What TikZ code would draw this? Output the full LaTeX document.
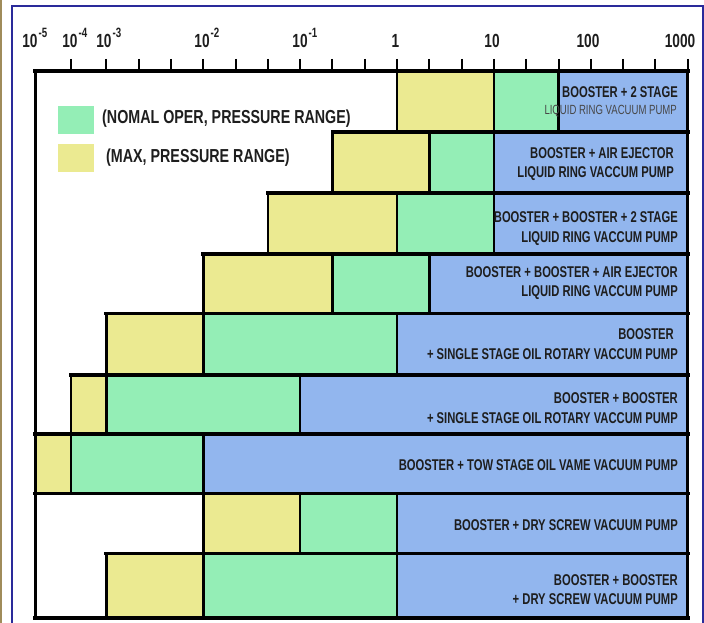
\documentclass[tikz,border=0pt]{standalone}
\usepackage{fontspec}
\newfontfamily\cf{Liberation Sans}[FakeStretch=0.72]
\newfontfamily\cfw{Liberation Sans}[FakeStretch=0.76]
\definecolor{cy}{RGB}{235,234,145}
\definecolor{cg}{RGB}{148,238,182}
\definecolor{cb}{RGB}{146,182,238}
\definecolor{navy}{RGB}{42,42,154}
\definecolor{tan}{RGB}{160,140,90}
\definecolor{ink}{RGB}{30,30,30}
\tikzset{
  vline/.style={line width=2.6pt, black, line cap=rect},
  hline/.style={line width=3.8pt, black, line cap=rect},
  tickmark/.style={line width=2pt, black},
  axl/.style={inner sep=0pt, anchor=base, text=ink, font=\cf\bfseries\fontsize{19}{19}\selectfont},
  leg/.style={inner sep=0pt, anchor=base west, text=ink, font=\cfw\bfseries\fontsize{18.8}{20}\selectfont},
  lab/.style={inner sep=0pt, anchor=base east, text=ink, font=\cf\bfseries\fontsize{15.6}{18}\selectfont},
  labthin/.style={inner sep=0pt, anchor=base east, text=black!72, font=\cf\fontsize{13.3}{15}\selectfont},
}
\newcommand\sups[1]{\rlap{\kern1pt\raisebox{10.5pt}{\fontsize{13.5}{13.5}\selectfont #1}}}
\begin{document}
\begin{tikzpicture}[x=1pt,y=-1pt]
\useasboundingbox (0,0) rectangle (704,623);
\fill[white] (0,0) rectangle (704,623);
% outer frame
\draw[tan, line width=1.5pt] (1,0) -- (1,623);
\draw[navy, line width=2pt] (12,630) -- (12,6) -- (703,6) -- (703,630);
% cells
\def\cells{cy/397/493.9/71/132, cg/493.9/558.5/71/132, cb/558.5/687.7/71/132,
 cy/332.4/429.3/132/193, cg/429.3/493.9/132/193, cb/493.9/687.7/132/193,
 cy/267.8/397/193/254, cg/397/493.9/193/254, cb/493.9/687.7/193/254,
 cy/203.2/332.4/254/313.5, cg/332.4/429.3/254/313.5, cb/429.3/687.7/254/313.5,
 cy/106.3/203.2/313.5/375, cg/203.2/397/313.5/375, cb/397/687.7/313.5/375,
 cy/71/106.3/375/434, cg/106.3/300.1/375/434, cb/300.1/687.7/375/434,
 cy/35/71/434/493.5, cg/71/203.2/434/493.5, cb/203.2/687.7/434/493.5,
 cy/203.2/300.1/493.5/553.5, cg/300.1/397/493.5/553.5, cb/397/687.7/493.5/553.5,
 cy/106.3/203.2/553.5/618, cg/203.2/397/553.5/618, cb/397/687.7/553.5/618}
\foreach \c/\a/\b/\t/\u in \cells {\fill[\c] (\a,\t) rectangle (\b,\u);}
\foreach \c/\a/\b/\t/\u in \cells {
  \draw[vline] (\a,\t) -- (\a,\u) (\b,\t) -- (\b,\u);
  \draw[hline] (\a,\t) -- (\b,\t) (\a,\u) -- (\b,\u);
}
% chart frame
\draw[line width=3pt, black] (35,71) -- (35,619);
\draw[hline] (35,618) -- (687.7,618);
\draw[line width=4pt, black, line cap=rect] (35,71) -- (687.7,71);
% ticks
\foreach \j in {-9,...,9} {\draw[tickmark] ({397+32.3*\j},59) -- ({397+32.3*\j},71);}
\draw[tickmark] (71,59) -- (71,71);
% axis labels
\node[axl] (e5) at (30,48) {10\sups{-5}};
\node[axl] (e4) at (70,48) {10\sups{-4}};
\node[axl] (e3) at (104,48) {10\sups{-3}};
\node[axl] (e2) at (202,48) {10\sups{-2}};
\node[axl] (e1) at (300,48) {10\sups{-1}};
\node[axl] (p0) at (395.3,48) {1};
\node[axl] (p1) at (492,48) {10};
\node[axl] (p2) at (588,48) {100};
\node[axl] (p3) at (680,48) {1000};
% legend
\fill[cg] (58,106) rectangle (94,134);
\fill[cy] (58,144) rectangle (94,172);
\node[leg] (lg1) at (102,124) {(NOMAL OPER, PRESSURE RANGE)};
\node[leg] (lg2) at (106,162) {(MAX, PRESSURE RANGE)};
% row labels
\node[lab] (r1a) at (678,97.5) {BOOSTER + 2 STAGE};
\node[labthin] (r1b) at (677,115) {LIQUID RING VACUUM PUMP};
\node[lab] (r2a) at (674,158.3) {BOOSTER + AIR EJECTOR};
\node[lab] (r2b) at (674,177.7) {LIQUID RING VACCUM PUMP};
\node[lab] (r3a) at (678,222.7) {BOOSTER + BOOSTER + 2 STAGE};
\node[lab] (r3b) at (678,242.7) {LIQUID RING VACCUM PUMP};
\node[lab] (r4a) at (678,277) {BOOSTER + BOOSTER + AIR EJECTOR};
\node[lab] (r4b) at (678,296) {LIQUID RING VACCUM PUMP};
\node[lab] (r5a) at (674,339) {BOOSTER};
\node[lab] (r5b) at (678,359.3) {+ SINGLE STAGE OIL ROTARY VACCUM PUMP};
\node[lab] (r6a) at (678,403) {BOOSTER + BOOSTER};
\node[lab] (r6b) at (678,423) {+ SINGLE STAGE OIL ROTARY VACCUM PUMP};
\node[lab] (r7) at (678,470) {BOOSTER + TOW STAGE OIL VAME VACUUM PUMP};
\node[lab] (r8) at (678,530) {BOOSTER + DRY SCREW VACUUM PUMP};
\node[lab] (r9a) at (678,585) {BOOSTER + BOOSTER};
\node[lab] (r9b) at (678,604) {+ DRY SCREW VACUUM PUMP};
\end{tikzpicture}
\end{document}
